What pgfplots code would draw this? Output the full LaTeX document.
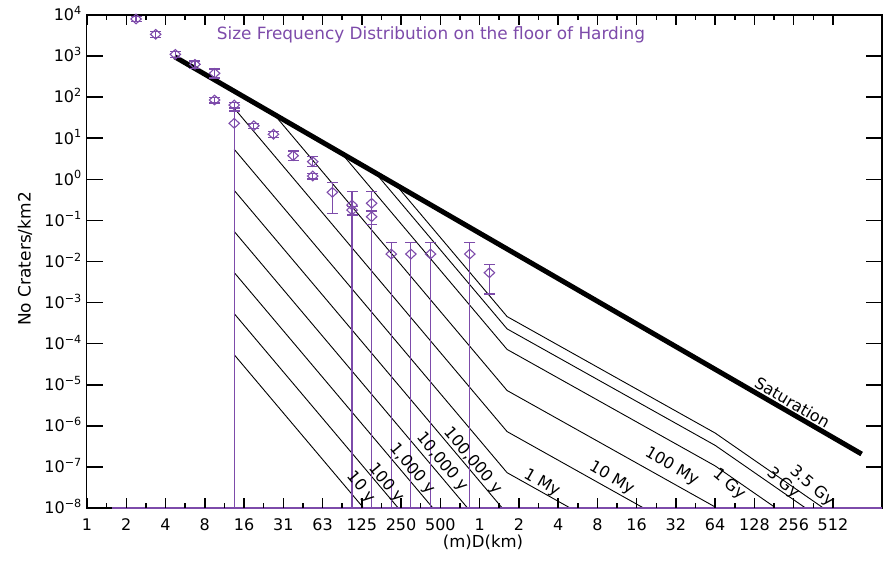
\documentclass[border=0pt]{standalone}
\usepackage{fontspec}
\setmainfont{DejaVu Sans}
\usepackage{pgfplots}
\pgfplotsset{compat=1.18}
\definecolor{idlpurple}{RGB}{125,75,170}

\begin{document}
\begin{tikzpicture}
\path[use as bounding box] (0pt,0pt) rectangle (889pt,574pt);
\begin{axis}[
  at={(86.5pt,66pt)}, anchor=south west,
  scale only axis, width=795.5pt, height=493pt,
  xmode=log, ymode=log,
  xmin=0.00096801, xmax=1216.9, ymin=1e-8, ymax=1e4,
  xtick={0.0009765625,0.001953125,0.00390625,0.0078125,0.015625,0.03125,0.0625,0.125,0.25,0.5,1,2,4,8,16,32,64,128,256,512},
  xticklabels={1,2,4,8,16,31,63,125,250,500,1,2,4,8,16,32,64,128,256,512},
  xminorticks=false,
  ytick={1e-8,1e-7,1e-6,1e-5,1e-4,1e-3,1e-2,1e-1,1,1e1,1e2,1e3,1e4},
  yticklabels={10\textsuperscript{−8},10\textsuperscript{−7},10\textsuperscript{−6},10\textsuperscript{−5},10\textsuperscript{−4},10\textsuperscript{−3},10\textsuperscript{−2},10\textsuperscript{−1},10\textsuperscript{0},10\textsuperscript{1},10\textsuperscript{2},10\textsuperscript{3},10\textsuperscript{4}},
  yminorticks=false,
  tick align=inside,
  axis line style={line width=1.5pt, black},
  major tick length=0pt,
  tick label style={font=\fontsize{16}{19}\selectfont},
  xticklabel style={anchor=base, inner sep=0pt, yshift=-22pt},
  yticklabel style={anchor=base east, inner sep=0pt, xshift=-4.5pt, yshift=-5.8pt},
  clip=true,
]
% isochrons (production functions)
\addplot[black, line width=0.9pt] coordinates {(0.013139,5.3814e-5) (1.6245,7.2444e-13)};
\addplot[black, line width=0.9pt] coordinates {(0.013139,5.3814e-4) (1.6245,7.2444e-12)};
\addplot[black, line width=0.9pt] coordinates {(0.013139,5.3814e-3) (1.6245,7.2444e-11)};
\addplot[black, line width=0.9pt] coordinates {(0.013139,5.3814e-2) (1.6245,7.2444e-10)};
\addplot[black, line width=0.9pt] coordinates {(0.013139,0.53814) (1.6245,7.2444e-9)};
\addplot[black, line width=0.9pt] coordinates {(0.013139,5.3814) (1.6245,7.2444e-8) (64,1.0580e-10)};
\addplot[black, line width=0.9pt] coordinates {(0.013139,53.814) (1.6245,7.2444e-7) (64,1.0580e-9)};
\addplot[black, line width=0.9pt] coordinates {(0.026455,38.64) (1.6245,7.2444e-6) (64,1.0580e-8) (1217.7,1.6207e-11)};
\addplot[black, line width=0.9pt] coordinates {(0.087475,4.295) (1.6245,7.2444e-5) (64,1.0580e-7) (1217.7,1.6207e-10)};
\addplot[black, line width=0.9pt] coordinates {(0.15911,1.4324) (1.6245,2.2909e-4) (64,3.3457e-7) (1217.7,5.1251e-10)};
\addplot[black, line width=0.9pt] coordinates {(0.22767,0.7424) (1.6245,4.5712e-4) (64,6.676e-7) (1217.7,1.0227e-9)};
% saturation
\addplot[black, line width=5pt] coordinates {(0.0045815,966.05) (849.2,2.0606e-7)};
% purple line along the bottom
\addplot[idlpurple, line width=3pt] coordinates {(0.00152,1e-8) (1216.9,1e-8)};
% error bars
\addplot[idlpurple, line width=1.2pt, mark=-, mark size=5.5pt, unbounded coords=jump] coordinates {
(0.0023227,6800) (0.0023227,9200) (0.0023227,nan)
(0.0032847,2880) (0.0032847,3900) (0.0032847,nan)
(0.0046453,940) (0.0046453,1270) (0.0046453,nan)
(0.0065695,505) (0.0065695,759) (0.0065695,nan)
(0.0092907,292) (0.0092907,485) (0.0092907,nan)
(0.0092907,72.5) (0.0092907,98) (0.0092907,nan)
(0.013139,54.7) (0.013139,74) (0.013139,nan)
(0.013139,1e-8) (0.013139,46) (0.013139,nan)
(0.018581,17.2) (0.018581,23.2) (0.018581,nan)
(0.026278,10.6) (0.026278,14.4) (0.026278,nan)
(0.037163,2.84) (0.037163,4.89) (0.037163,nan)
(0.052556,2.03) (0.052556,3.56) (0.052556,nan)
(0.052556,1.02) (0.052556,1.39) (0.052556,nan)
(0.074325,0.149) (0.074325,0.845) (0.074325,nan)
(0.10511,1e-8) (0.10511,0.5) (0.10511,nan)
(0.10511,0.135) (0.10511,0.22) (0.10511,nan)
(0.14865,1e-8) (0.14865,0.5) (0.14865,nan)
(0.14865,0.08) (0.14865,0.17) (0.14865,nan)
(0.21022,1e-8) (0.21022,0.0287) (0.21022,nan)
(0.29730,1e-8) (0.29730,0.0287) (0.29730,nan)
(0.42045,1e-8) (0.42045,0.0287) (0.42045,nan)
(0.84090,1e-8) (0.84090,0.0287) (0.84090,nan)
(1.18921,0.00161) (1.18921,0.00853)
};
% data points
\addplot[only marks, idlpurple, mark=diamond, mark size=4.8pt, mark options={xscale=1.45, line width=1.1pt, fill=none}] coordinates {
(0.0023227,8000) (0.0032847,3390) (0.0046453,1104) (0.0065695,631) (0.0092907,381) (0.0092907,85.3)
(0.013139,64.4) (0.013139,23.1) (0.018581,20.2) (0.026278,12.5) (0.037163,3.76) (0.052556,2.69)
(0.052556,1.205) (0.074325,0.483) (0.10511,0.237) (0.10511,0.179) (0.14865,0.261) (0.14865,0.123)
(0.21022,0.0152) (0.29730,0.0152) (0.42045,0.0152) (0.84090,0.0152) (1.18921,0.00533)
};
\end{axis}
% tick marks: x major (every doubling), bottom and top
\draw[line width=1.5pt] (87pt,66pt) -- (87pt,76pt);
\draw[line width=1.5pt] (126.26pt,66pt) -- (126.26pt,76pt);
\draw[line width=1.5pt] (165.52pt,66pt) -- (165.52pt,76pt);
\draw[line width=1.5pt] (204.78pt,66pt) -- (204.78pt,76pt);
\draw[line width=1.5pt] (244.04pt,66pt) -- (244.04pt,76pt);
\draw[line width=1.5pt] (283.30pt,66pt) -- (283.30pt,76pt);
\draw[line width=1.5pt] (322.56pt,66pt) -- (322.56pt,76pt);
\draw[line width=1.5pt] (361.82pt,66pt) -- (361.82pt,76pt);
\draw[line width=1.5pt] (401.08pt,66pt) -- (401.08pt,76pt);
\draw[line width=1.5pt] (440.34pt,66pt) -- (440.34pt,76pt);
\draw[line width=1.5pt] (479.60pt,66pt) -- (479.60pt,76pt);
\draw[line width=1.5pt] (518.86pt,66pt) -- (518.86pt,76pt);
\draw[line width=1.5pt] (558.12pt,66pt) -- (558.12pt,76pt);
\draw[line width=1.5pt] (597.38pt,66pt) -- (597.38pt,76pt);
\draw[line width=1.5pt] (636.64pt,66pt) -- (636.64pt,76pt);
\draw[line width=1.5pt] (675.90pt,66pt) -- (675.90pt,76pt);
\draw[line width=1.5pt] (715.16pt,66pt) -- (715.16pt,76pt);
\draw[line width=1.5pt] (754.42pt,66pt) -- (754.42pt,76pt);
\draw[line width=1.5pt] (793.68pt,66pt) -- (793.68pt,76pt);
\draw[line width=1.5pt] (832.94pt,66pt) -- (832.94pt,76pt);
\draw[line width=1.5pt] (87pt,559pt) -- (87pt,549pt);
\draw[line width=1.5pt] (126.26pt,559pt) -- (126.26pt,549pt);
\draw[line width=1.5pt] (165.52pt,559pt) -- (165.52pt,549pt);
\draw[line width=1.5pt] (204.78pt,559pt) -- (204.78pt,549pt);
\draw[line width=1.5pt] (244.04pt,559pt) -- (244.04pt,549pt);
\draw[line width=1.5pt] (283.30pt,559pt) -- (283.30pt,549pt);
\draw[line width=1.5pt] (322.56pt,559pt) -- (322.56pt,549pt);
\draw[line width=1.5pt] (361.82pt,559pt) -- (361.82pt,549pt);
\draw[line width=1.5pt] (401.08pt,559pt) -- (401.08pt,549pt);
\draw[line width=1.5pt] (440.34pt,559pt) -- (440.34pt,549pt);
\draw[line width=1.5pt] (479.60pt,559pt) -- (479.60pt,549pt);
\draw[line width=1.5pt] (518.86pt,559pt) -- (518.86pt,549pt);
\draw[line width=1.5pt] (558.12pt,559pt) -- (558.12pt,549pt);
\draw[line width=1.5pt] (597.38pt,559pt) -- (597.38pt,549pt);
\draw[line width=1.5pt] (636.64pt,559pt) -- (636.64pt,549pt);
\draw[line width=1.5pt] (675.90pt,559pt) -- (675.90pt,549pt);
\draw[line width=1.5pt] (715.16pt,559pt) -- (715.16pt,549pt);
\draw[line width=1.5pt] (754.42pt,559pt) -- (754.42pt,549pt);
\draw[line width=1.5pt] (793.68pt,559pt) -- (793.68pt,549pt);
\draw[line width=1.5pt] (832.94pt,559pt) -- (832.94pt,549pt);
% x minor ticks, bottom and top
\draw[line width=1.5pt] (106.63pt,66pt) -- (106.63pt,71pt);
\draw[line width=1.5pt] (145.89pt,66pt) -- (145.89pt,71pt);
\draw[line width=1.5pt] (185.15pt,66pt) -- (185.15pt,71pt);
\draw[line width=1.5pt] (224.41pt,66pt) -- (224.41pt,71pt);
\draw[line width=1.5pt] (263.67pt,66pt) -- (263.67pt,71pt);
\draw[line width=1.5pt] (302.93pt,66pt) -- (302.93pt,71pt);
\draw[line width=1.5pt] (342.19pt,66pt) -- (342.19pt,71pt);
\draw[line width=1.5pt] (381.45pt,66pt) -- (381.45pt,71pt);
\draw[line width=1.5pt] (420.71pt,66pt) -- (420.71pt,71pt);
\draw[line width=1.5pt] (459.97pt,66pt) -- (459.97pt,71pt);
\draw[line width=1.5pt] (499.23pt,66pt) -- (499.23pt,71pt);
\draw[line width=1.5pt] (538.49pt,66pt) -- (538.49pt,71pt);
\draw[line width=1.5pt] (577.75pt,66pt) -- (577.75pt,71pt);
\draw[line width=1.5pt] (617.01pt,66pt) -- (617.01pt,71pt);
\draw[line width=1.5pt] (656.27pt,66pt) -- (656.27pt,71pt);
\draw[line width=1.5pt] (695.53pt,66pt) -- (695.53pt,71pt);
\draw[line width=1.5pt] (734.79pt,66pt) -- (734.79pt,71pt);
\draw[line width=1.5pt] (774.05pt,66pt) -- (774.05pt,71pt);
\draw[line width=1.5pt] (813.31pt,66pt) -- (813.31pt,71pt);
\draw[line width=1.5pt] (106.63pt,559pt) -- (106.63pt,554pt);
\draw[line width=1.5pt] (145.89pt,559pt) -- (145.89pt,554pt);
\draw[line width=1.5pt] (185.15pt,559pt) -- (185.15pt,554pt);
\draw[line width=1.5pt] (224.41pt,559pt) -- (224.41pt,554pt);
\draw[line width=1.5pt] (263.67pt,559pt) -- (263.67pt,554pt);
\draw[line width=1.5pt] (302.93pt,559pt) -- (302.93pt,554pt);
\draw[line width=1.5pt] (342.19pt,559pt) -- (342.19pt,554pt);
\draw[line width=1.5pt] (381.45pt,559pt) -- (381.45pt,554pt);
\draw[line width=1.5pt] (420.71pt,559pt) -- (420.71pt,554pt);
\draw[line width=1.5pt] (459.97pt,559pt) -- (459.97pt,554pt);
\draw[line width=1.5pt] (499.23pt,559pt) -- (499.23pt,554pt);
\draw[line width=1.5pt] (538.49pt,559pt) -- (538.49pt,554pt);
\draw[line width=1.5pt] (577.75pt,559pt) -- (577.75pt,554pt);
\draw[line width=1.5pt] (617.01pt,559pt) -- (617.01pt,554pt);
\draw[line width=1.5pt] (656.27pt,559pt) -- (656.27pt,554pt);
\draw[line width=1.5pt] (695.53pt,559pt) -- (695.53pt,554pt);
\draw[line width=1.5pt] (734.79pt,559pt) -- (734.79pt,554pt);
\draw[line width=1.5pt] (774.05pt,559pt) -- (774.05pt,554pt);
\draw[line width=1.5pt] (813.31pt,559pt) -- (813.31pt,554pt);
% y ticks, left and right
\draw[line width=1.5pt] (86.5pt,107.08pt) -- (102.5pt,107.08pt);
\draw[line width=1.5pt] (86.5pt,148.17pt) -- (102.5pt,148.17pt);
\draw[line width=1.5pt] (86.5pt,189.25pt) -- (102.5pt,189.25pt);
\draw[line width=1.5pt] (86.5pt,230.33pt) -- (102.5pt,230.33pt);
\draw[line width=1.5pt] (86.5pt,271.42pt) -- (102.5pt,271.42pt);
\draw[line width=1.5pt] (86.5pt,312.50pt) -- (102.5pt,312.50pt);
\draw[line width=1.5pt] (86.5pt,353.58pt) -- (102.5pt,353.58pt);
\draw[line width=1.5pt] (86.5pt,394.67pt) -- (102.5pt,394.67pt);
\draw[line width=1.5pt] (86.5pt,435.75pt) -- (102.5pt,435.75pt);
\draw[line width=1.5pt] (86.5pt,476.83pt) -- (102.5pt,476.83pt);
\draw[line width=1.5pt] (86.5pt,517.92pt) -- (102.5pt,517.92pt);
\draw[line width=1.5pt] (882pt,107.08pt) -- (866pt,107.08pt);
\draw[line width=1.5pt] (882pt,148.17pt) -- (866pt,148.17pt);
\draw[line width=1.5pt] (882pt,189.25pt) -- (866pt,189.25pt);
\draw[line width=1.5pt] (882pt,230.33pt) -- (866pt,230.33pt);
\draw[line width=1.5pt] (882pt,271.42pt) -- (866pt,271.42pt);
\draw[line width=1.5pt] (882pt,312.50pt) -- (866pt,312.50pt);
\draw[line width=1.5pt] (882pt,353.58pt) -- (866pt,353.58pt);
\draw[line width=1.5pt] (882pt,394.67pt) -- (866pt,394.67pt);
\draw[line width=1.5pt] (882pt,435.75pt) -- (866pt,435.75pt);
\draw[line width=1.5pt] (882pt,476.83pt) -- (866pt,476.83pt);
\draw[line width=1.5pt] (882pt,517.92pt) -- (866pt,517.92pt);
% texts
\node[anchor=base, text=idlpurple, font=\fontsize{16.9}{20}\selectfont] at (431pt,534pt) {Size Frequency Distribution on the floor of Harding};
\node[rotate=90, font=\fontsize{17}{20}\selectfont] at (25pt,315pt) {No Craters/km2};
\node[anchor=base, font=\fontsize{16.5}{20}\selectfont] at (483pt,26.5pt) {(m)D(km)};
\node[rotate=-50, font=\fontsize{16}{19}\selectfont, inner sep=0pt] at (361pt,86.5pt) {10 y};
\node[rotate=-50, font=\fontsize{16}{19}\selectfont, inner sep=0pt] at (386pt,91pt) {100 y};
\node[rotate=-50, font=\fontsize{16}{19}\selectfont, inner sep=0pt] at (412pt,105pt) {1,000 y};
\node[rotate=-50, font=\fontsize{16}{19}\selectfont, inner sep=0pt] at (442pt,112pt) {10,000 y};
\node[rotate=-50, font=\fontsize{16}{19}\selectfont, inner sep=0pt] at (473pt,113pt) {100,000 y};
\node[rotate=-30, font=\fontsize{16}{19}\selectfont, inner sep=0pt] at (541.7pt,90.7pt) {1 My};
\node[rotate=-30, font=\fontsize{16}{19}\selectfont, inner sep=0pt] at (611.7pt,95.7pt) {10 My};
\node[rotate=-30, font=\fontsize{16}{19}\selectfont, inner sep=0pt] at (671.7pt,107.3pt) {100 My};
\node[rotate=-40, font=\fontsize{16}{19}\selectfont, inner sep=0pt] at (729pt,90pt) {1 Gy};
\node[rotate=-40, font=\fontsize{16}{19}\selectfont, inner sep=0pt] at (783pt,91pt) {3 Gy};
\node[rotate=-40, font=\fontsize{16}{19}\selectfont, inner sep=0pt] at (812pt,88pt) {3.5 Gy};
\node[rotate=-30, font=\fontsize{16}{19}\selectfont, inner sep=0pt] at (792.5pt,171.5pt) {Saturation};
\end{tikzpicture}
\end{document}
